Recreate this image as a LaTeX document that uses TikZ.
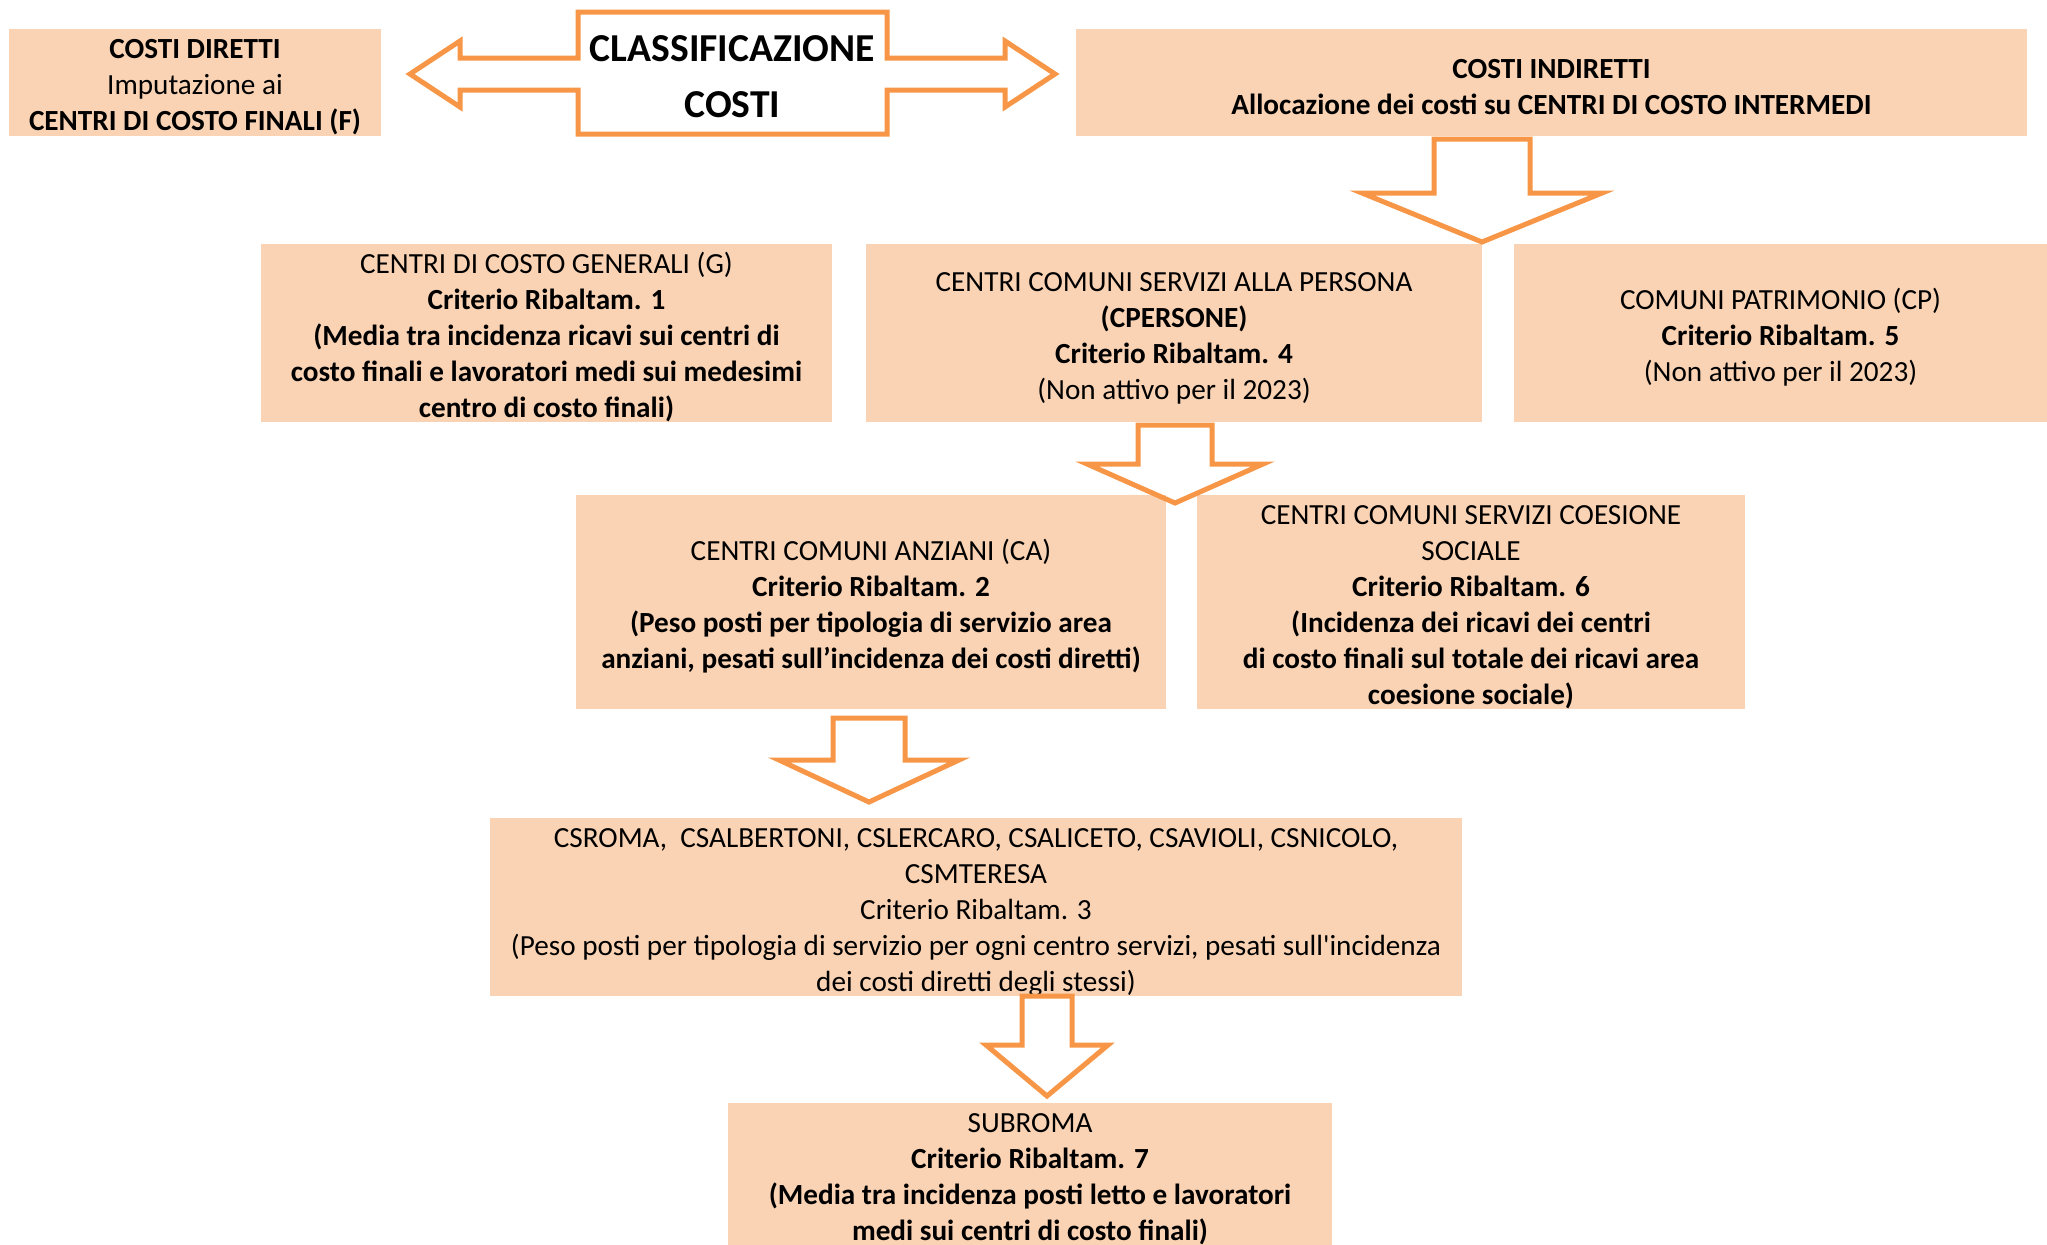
\documentclass[tikz,border=0pt]{standalone}
\usepackage{fontspec}
\setmainfont{Carlito}

\definecolor{pesca}{HTML}{FAD3B4}
\definecolor{arancio}{HTML}{F79646}

\tikzset{
	box/.style={fill=pesca, inner sep=0pt, align=center, font=\fontsize{14.6}{18}\selectfont},
	freccia/.style={draw=arancio, line width=2.5pt, line join=miter},
}

% strut per abbassare il testo
\newcommand{\su}{\rule{0pt}{14.5pt}}
% freccia in giu: x, alto, base punta, punta, mezzo fusto, mezza punta
\newcommand{\giu}[6]{%
	\draw[freccia] (#1-#5,#2) -- (#1+#5,#2) -- (#1+#5,#3) -- (#1+#6,#3) -- (#1,#4) -- (#1-#6,#3) -- (#1-#5,#3) -- cycle;}

\begin{document}
\begin{tikzpicture}[x=0.5pt, y=-0.5pt]
			\useasboundingbox (0,0) rectangle (2047,1244);
			
			\node[box, minimum width=186pt, minimum height=53.5pt] (dir) at (195,82.5) {\su\textbf{COSTI DIRETTI}\\Imputazione ai\\\textbf{CENTRI DI COSTO FINALI (F)}};
			\node[box, minimum width=475.5pt, minimum height=53.5pt] (ind) at (1551.5,82.5) {\su\textbf{COSTI INDIRETTI}\\\textbf{Allocazione dei costi su CENTRI DI COSTO INTERMEDI}};
			
			\draw[freccia] (578,12) -- (887,12) -- (887,58) -- (1005,58) -- (1005,41) -- (1055,74) -- (1005,107) -- (1005,90) -- (887,90) -- (887,134) -- (578,134) -- (578,90) -- (460,90) -- (460,107) -- (410,74) -- (460,41) -- (460,58) -- (578,58) -- cycle;
			\node[align=center, font=\fontsize{19.8}{28}\selectfont\bfseries] (tit) at (732.5,77) {CLASSIFICAZIONE\\COSTI};
			
			\node[box, minimum width=285.5pt, minimum height=89pt] (gen) at (546.5,333) {\su CENTRI DI COSTO GENERALI (G)\\\textbf{Criterio Ribaltam. 1}\\\textbf{(Media tra incidenza ricavi sui centri di}\\\textbf{costo finali e lavoratori medi sui medesimi}\\\textbf{centro di costo finali)}};
			\node[box, minimum width=308pt, minimum height=89pt] (pers) at (1174,333) {\su CENTRI COMUNI SERVIZI ALLA PERSONA\\\textbf{(CPERSONE)}\\\textbf{Criterio Ribaltam. 4}\\(Non attivo per il 2023)};
			\node[box, minimum width=266.5pt, minimum height=89pt] (patr) at (1780.5,333) {\su COMUNI PATRIMONIO (CP)\\\textbf{Criterio Ribaltam. 5}\\(Non attivo per il 2023)};
			
			\node[box, minimum width=295pt, minimum height=107pt] (ca) at (871,602) {\su CENTRI COMUNI ANZIANI (CA)\\\textbf{Criterio Ribaltam. 2}\\\textbf{(Peso posti per tipologia di servizio area}\\\textbf{anziani, pesati sull’incidenza dei costi diretti)}};
			\node[box, minimum width=274pt, minimum height=107pt] (coes) at (1471,602) {\su CENTRI COMUNI SERVIZI COESIONE\\SOCIALE\\\textbf{Criterio Ribaltam. 6}\\\textbf{(Incidenza dei ricavi dei centri}\\\textbf{di costo finali sul totale dei ricavi area}\\\textbf{coesione sociale)}};
			
			\node[box, minimum width=486pt, minimum height=89pt] (cs) at (976,907) {\su CSROMA,\ \ CSALBERTONI, CSLERCARO, CSALICETO, CSAVIOLI, CSNICOLO,\\CSMTERESA\\Criterio Ribaltam. 3\\(Peso posti per tipologia di servizio per ogni centro servizi, pesati sull\textquotesingle incidenza\\dei costi diretti degli stessi)};
			
			\node[box, minimum width=302pt, minimum height=70pt] (sub) at (1030,1174) {\su SUBROMA\\\textbf{Criterio Ribaltam. 7}\\\textbf{(Media tra incidenza posti letto e lavoratori}\\\textbf{medi sui centri di costo finali)}};
			
			\giu{1482}{139}{193}{242}{48}{120}
			\giu{1175}{425}{464}{503}{37}{88}
			\giu{869}{718}{760}{802}{36}{90}
			\giu{1047}{996}{1045}{1096}{25}{61}
\end{tikzpicture}
\end{document}
